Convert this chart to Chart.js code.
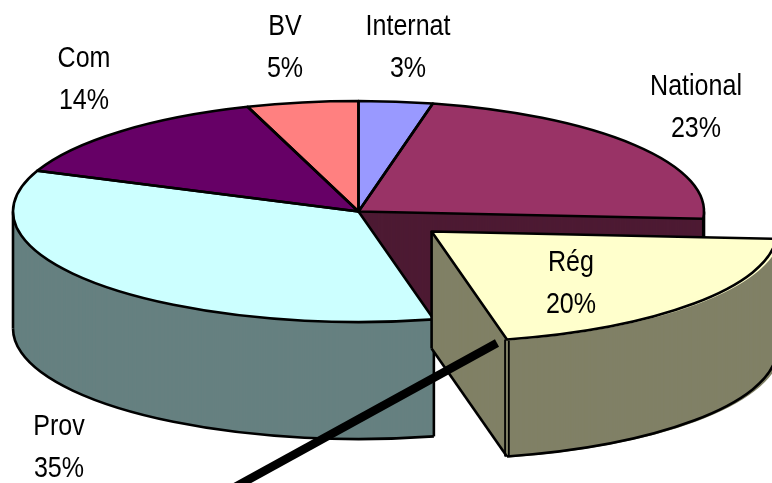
<!DOCTYPE html>
<html><head><meta charset="utf-8">
<style>html,body{margin:0;padding:0;background:#fff}canvas{display:block}</style>
<script src="https://cdn.jsdelivr.net/npm/chart.js@4"></script></head>
<body><canvas id="c" width="772" height="483"></canvas>
<script>
const categories = ['Internat','National','Rég','Prov','Com','BV'];
const shares = [3.45,22.6,20.45,34.5,13.8,5.2];
const topColors = ['#9999ff','#993366','#ffffcc','#ccffff','#660066','#ff8080'];
const wallColors = ['#4d4d80','#4d1a33','#808066','#668080','#330033','#804040'];
const explode = [0,0,385,0,0,0];

const view = {cx:358.5, cy:211.5, R:345.5, k:0.32, depth:117, stroke:2.6};
const labelSpots = {Internat:[408,26.5],National:[696,86.5],'Rég':[571,262.5],Prov:[59,426.5],Com:[84,58.5],BV:[285,26.5]};
const leader = {from:[497,343], to:[226,492], width:8.5};

function shift(arc,i){
  const mid=(arc.startAngle+arc.endAngle)/2, off=explode[i]/4;
  return [Math.cos(mid)*off, Math.sin(mid)*off*view.k];
}
function paint(ctx,arc,i,d,fill){
  const saved=arc.options;
  arc.options={backgroundColor:fill,borderColor:fill,borderWidth:0,borderAlign:'center',borderJoinStyle:'round',
    borderRadius:0,borderDash:[],borderDashOffset:0,spacing:0,circular:true,offset:explode[i],selfJoin:false};
  ctx.save();
  ctx.translate(view.cx,view.cy+d);
  ctx.scale(1,view.k);
  ctx.translate(-arc.x,-arc.y);
  arc.draw(ctx);
  ctx.restore();
  arc.options=saved;
}
function rim(arc,i,a,d){
  const s=shift(arc,i);
  return [view.cx+s[0]+Math.cos(a)*view.R, view.cy+s[1]+d+Math.sin(a)*view.R*view.k];
}
function centre(arc,i,d){const s=shift(arc,i);return [view.cx+s[0],view.cy+s[1]+d];}
function line(ctx,a,b){ctx.beginPath();ctx.moveTo(a[0],a[1]);ctx.lineTo(b[0],b[1]);ctx.stroke();}
function outlineTop(ctx,arc,i){
  const c=centre(arc,i,0);
  ctx.beginPath();ctx.moveTo(c[0],c[1]);
  ctx.ellipse(c[0],c[1],view.R,view.R*view.k,0,arc.startAngle,arc.endAngle);
  ctx.closePath();ctx.stroke();
}
function frontRim(ctx,arc,i){
  const a=Math.max(arc.startAngle,0), b=Math.min(arc.endAngle,Math.PI);
  if(b<=a) return;
  const c=centre(arc,i,view.depth);
  ctx.beginPath();ctx.ellipse(c[0],c[1],view.R,view.R*view.k,0,a,b);ctx.stroke();
  if(!explode[i]) [a,b].forEach(t=>line(ctx,rim(arc,i,t,0),rim(arc,i,t,view.depth)));
}
const pie3d={id:'pie3d',
  beforeDatasetsDraw(chart){
    const ctx=chart.ctx, arcs=chart.getDatasetMeta(0).data;
    ctx.save();
    ctx.strokeStyle='#000';ctx.lineWidth=view.stroke;ctx.lineJoin='round';
    const still=arcs.map((a,i)=>i).filter(i=>!explode[i]);
    const moved=arcs.map((a,i)=>i).filter(i=>explode[i]);
    for(let d=view.depth;d>0;d--) still.forEach(i=>paint(ctx,arcs[i],i,d,wallColors[i]));
    still.forEach(i=>frontRim(ctx,arcs[i],i));
    still.forEach(i=>paint(ctx,arcs[i],i,0,topColors[i]));
    still.forEach(i=>outlineTop(ctx,arcs[i],i));
    moved.forEach(i=>{
      const arc=arcs[i];
      for(let d=view.depth;d>0;d--) paint(ctx,arc,i,d,wallColors[i]);
      frontRim(ctx,arc,i);
      const ap=centre(arc,i,0), ab=centre(arc,i,view.depth), e=rim(arc,i,arc.endAngle,0), eb=rim(arc,i,arc.endAngle,view.depth);
      line(ctx,ap,ab);line(ctx,ab,eb);
      // the corner reads as a double edge in the reference
      ctx.lineWidth=1.8;
      line(ctx,[e[0]-1.9,e[1]],[eb[0]-1.9,eb[1]]);
      line(ctx,[e[0]+1.9,e[1]],[eb[0]+1.9,eb[1]]);
      ctx.lineWidth=view.stroke;
      paint(ctx,arc,i,0,topColors[i]);
      outlineTop(ctx,arc,i);
    });
    ctx.lineWidth=leader.width;ctx.lineCap='butt';
    line(ctx,leader.from,leader.to);
    ctx.restore();
    return false;
  },
  afterDraw(chart){
    const ctx=chart.ctx;
    ctx.save();
    ctx.fillStyle='#000';ctx.textAlign='center';ctx.textBaseline='middle';
    ctx.font='30px "Liberation Sans", Arial, sans-serif';
    categories.forEach((name,i)=>{
      const p=labelSpots[name];
      [name,Math.round(shares[i])+'%'].forEach((t,j)=>{
        ctx.save();ctx.translate(p[0],p[1]+j*42.5);ctx.scale(0.835,1);ctx.fillText(t,0,0);ctx.restore();
      });
    });
    ctx.restore();
  }
};
new Chart(document.getElementById('c'),{
  type:'pie',
  data:{labels:categories,datasets:[{data:shares,backgroundColor:topColors,borderWidth:0,offset:explode,hoverOffset:0}]},
  options:{responsive:false,animation:false,radius:view.R,
    plugins:{legend:{display:false},tooltip:{enabled:false}},events:[]},
  plugins:[pie3d]
});
</script></body></html>
